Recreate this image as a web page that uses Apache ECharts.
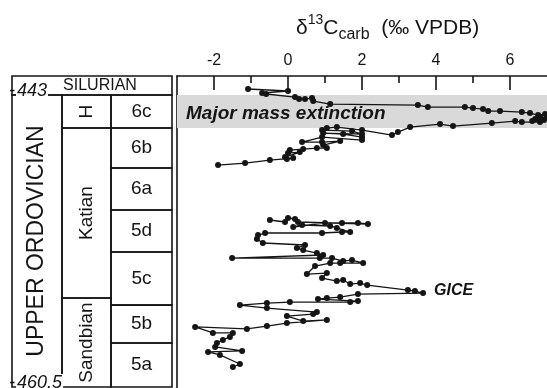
<!DOCTYPE html>
<html><head><meta charset="utf-8">
<script src="https://cdn.jsdelivr.net/npm/echarts@6/dist/echarts.min.js"></script>
<style>html,body{margin:0;padding:0;background:#fff}#c{width:547px;height:388px}</style>
</head><body><div id="c"></div>
<script>
// ---- data ----
const xTicks = [-2, 0, 2, 4, 6];
const xMinorTicks = [-1, 1, 3, 5];
// Upper segment (Hirnantian + upper Katian), delta13C and age (Ma, negative)
const upperX = [-1.08,0.00,-0.70,-0.59,0.19,0.30,0.46,0.65,0.68,1.14,3.51,3.78,4.78,5.00,5.27,5.41,5.73,6.32,6.54,6.76,6.95,6.81,7.00,6.68,6.92,6.60,6.81,6.32,6.14,5.51,4.46,4.11,3.30,2.97,2.81,2.00,1.32,1.05,0.92,1.73,2.00,0.95,1.49,2.00,2.00,0.92,0.38,0.92,1.41,0.95,1.05,0.78,0.41,0.05,0.00,0.32,-0.08,-0.03,0.14,-0.49,-1.16,-1.89];
const upperY = [-442.64,-442.76,-442.88,-442.94,-443.12,-443.24,-443.24,-443.18,-443.36,-443.54,-443.60,-443.72,-443.72,-443.78,-443.84,-443.96,-443.96,-444.02,-444.08,-444.20,-444.14,-444.32,-444.38,-444.44,-444.50,-444.56,-444.62,-444.62,-444.56,-444.68,-444.86,-444.74,-444.92,-445.22,-445.40,-445.10,-444.92,-444.98,-445.10,-445.16,-445.34,-445.28,-445.34,-445.52,-445.70,-445.52,-445.82,-445.82,-445.76,-446.00,-446.18,-446.18,-446.24,-446.30,-446.48,-446.42,-446.72,-446.84,-446.78,-446.90,-447.08,-447.20];
// Lower segment (Sandbian - middle Katian)
const lowerX = [-0.49,-0.08,0.00,0.19,0.27,2.16,1.89,1.46,1.00,0.14,0.38,1.14,1.32,1.68,1.46,0.92,-0.62,-0.81,-0.84,-0.68,0.46,0.24,0.41,0.78,0.95,-1.51,0.86,1.19,1.49,1.73,2.03,1.41,1.14,0.73,0.51,1.05,0.92,1.32,1.49,1.68,1.95,2.14,3.24,3.43,3.65,1.89,1.41,1.05,0.81,1.89,1.68,0.05,-0.57,-1.30,-0.57,0.78,0.68,-0.03,0.41,1.05,-0.03,-0.57,-1.11,-2.51,-2.03,-1.49,-1.57,-1.76,-1.92,-1.97,-1.24,-2.16,-1.84,-1.30,-1.49];
const lowerY = [-450.49,-450.61,-450.37,-450.43,-450.61,-450.73,-450.67,-450.67,-450.67,-450.91,-450.79,-450.85,-450.97,-451.21,-451.21,-451.27,-451.27,-451.39,-451.63,-451.87,-451.99,-452.17,-452.29,-452.47,-452.59,-452.77,-452.77,-452.77,-452.95,-452.89,-453.07,-453.07,-453.07,-453.25,-453.73,-453.67,-453.97,-454.15,-454.09,-454.33,-454.27,-454.39,-454.69,-454.75,-454.87,-454.93,-455.11,-455.17,-455.23,-455.35,-455.41,-455.41,-455.47,-455.59,-455.77,-456.01,-456.13,-456.25,-456.55,-456.48,-456.67,-456.85,-457.02,-456.90,-457.26,-457.26,-457.50,-457.68,-457.86,-458.10,-458.34,-458.40,-458.58,-459.12,-459.30];
const extinctionBand = [-443, -444.98];
const extinctionLabel = 'Major mass extinction';
const giceLabel = 'GICE';
const periodCells = [[-441.86, -443, 'SILURIAN']];
const seriesCells = [[-443, -460.5, 'UPPER ORDOVICIAN']];
const stageCells = [[-443, -444.98, 'H'], [-444.98, -455.17, 'Katian'], [-455.17, -460.5, 'Sandbian']];
const substageCells = [[-443, -444.98, '6c'], [-444.98, -447.37, '6b'], [-447.37, -449.89, '6a'], [-449.89, -452.41, '5d'], [-452.41, -455.59, '5c'], [-455.59, -457.86, '5b'], [-457.86, -460.5, '5a']];
const ageMarks = [[-443, '443'], [-460.5, '460.5']];

// ---- chart ----
const FONT = '"Liberation Sans", Arial, Helvetica, sans-serif';
const INK = '#151515';
const Y_MIN = -460.56, Y_MAX = -441.86;

const upperData = upperX.map((x, i) => [x, upperY[i]]);
let giceIdx = 0;
lowerX.forEach((x, i) => { if (x > lowerX[giceIdx]) giceIdx = i; });
const lowerData = lowerX.map((x, i) => {
  if (i !== giceIdx) return [x, lowerY[i]];
  return { value: [x, lowerY[i]], label: { show: true, position: 'right', distance: 8, offset: [0, -2],
    formatter: giceLabel, fontFamily: FONT, fontSize: 16, fontWeight: 'bold', fontStyle: 'italic', color: INK } };
});

// axis indices: xAxis 0,1 -> grid 0 ; xAxis k+1 -> grid k (k>=1) ; yAxis k -> grid k
function cellSeries(g, cells, fontSize, rotate, dx) {
  return {
    type: 'custom', coordinateSystem: 'cartesian2d', xAxisIndex: g + 1, yAxisIndex: g, clip: false, silent: true, z: 2,
    data: cells.map(c => [0, c[0], c[1]]),
    encode: { x: 0, y: [1, 2] },
    renderItem: function (params, api) {
      const cs = params.coordSys;
      const c = cells[params.dataIndex];
      const yA = api.coord([0, c[0]])[1];
      const yB = api.coord([0, c[1]])[1];
      return { type: 'group', children: [
        { type: 'rect', shape: { x: cs.x, y: yA, width: cs.width, height: yB - yA },
          style: { fill: 'none', stroke: INK, lineWidth: 1.6 } },
        { type: 'text', x: cs.x + cs.width / 2 + dx, y: (yA + yB) / 2, rotation: rotate ? Math.PI / 2 : 0,
          style: { text: c[2], fontFamily: FONT, fontSize: fontSize, fill: INK, align: 'center', verticalAlign: 'middle' } }
      ] };
    }
  };
}

const grids = [
  { left: 177, right: 0, top: 76, bottom: 0 },
  { left: 12, width: 160, top: 76, bottom: 0 },
  { left: 12, width: 50, top: 76, bottom: 0 },
  { left: 62, width: 49, top: 76, bottom: 0 },
  { left: 111, width: 61, top: 76, bottom: 0 }
].map(g => Object.assign({ containLabel: false, outerBoundsMode: 'none' }, g));

const hiddenX = i => ({ gridIndex: i, type: 'value', min: 0, max: 1, show: false });
const hiddenY = i => ({ gridIndex: i, type: 'value', min: Y_MIN, max: Y_MAX, show: false });

const option = {
  animation: false,
  backgroundColor: '#fff',
  title: {
    left: 296, top: 13, padding: 0,
    text: '{a|δ}{b|13}{a|C}{c|carb}{a|  (‰ VPDB)}',
    textStyle: { fontWeight: 'normal', rich: {
      a: { fontFamily: FONT, fontSize: 21, fontWeight: 'normal', color: INK, lineHeight: 30, verticalAlign: 'middle' },
      b: { fontFamily: FONT, fontSize: 14, fontWeight: 'normal', color: INK, lineHeight: 16, verticalAlign: 'top' },
      c: { fontFamily: FONT, fontSize: 16, fontWeight: 'normal', color: INK, lineHeight: 16, verticalAlign: 'bottom' }
    } }
  },
  grid: grids,
  xAxis: [
    { gridIndex: 0, type: 'value', min: -3, max: 7, position: 'top',
      axisLine: { show: true, onZero: false, lineStyle: { color: INK, width: 1.6 } },
      axisTick: { show: true, inside: true, length: 14, customValues: xTicks, lineStyle: { color: INK, width: 1.6 } },
      axisLabel: { show: true, customValues: xTicks, margin: 7, fontFamily: FONT, fontSize: 16, color: INK },
      splitLine: { show: false } },
    { gridIndex: 0, type: 'value', min: -3, max: 7, position: 'top',
      axisLine: { show: false },
      axisTick: { show: true, inside: true, length: 7, customValues: xMinorTicks, lineStyle: { color: INK, width: 1.6 } },
      axisLabel: { show: false }, splitLine: { show: false } },
    hiddenX(1), hiddenX(2), hiddenX(3), hiddenX(4)
  ],
  yAxis: [
    { gridIndex: 0, type: 'value', min: Y_MIN, max: Y_MAX, position: 'left',
      axisLine: { show: true, onZero: false, lineStyle: { color: INK, width: 1.6 } },
      axisTick: { show: false }, axisLabel: { show: false }, splitLine: { show: false } },
    hiddenY(1), hiddenY(2), hiddenY(3), hiddenY(4)
  ],
  series: [
    { type: 'custom', coordinateSystem: 'cartesian2d', xAxisIndex: 0, yAxisIndex: 0, clip: false, silent: true, z: 1,
      data: [[0, extinctionBand[0], extinctionBand[1]]],
      encode: { x: 0, y: [1, 2] },
      renderItem: function (params, api) {
        const cs = params.coordSys;
        const yA = api.coord([0, api.value(1)])[1];
        const yB = api.coord([0, api.value(2)])[1];
        return { type: 'group', children: [
          { type: 'rect', shape: { x: cs.x, y: yA, width: cs.width, height: yB - yA }, style: { fill: '#d9d9d9' } },
          { type: 'text', x: cs.x + 9, y: (yA + yB) / 2 + 2,
            style: { text: extinctionLabel, fontFamily: FONT, fontSize: 19, fontWeight: 'bold', fontStyle: 'italic',
              fill: INK, align: 'left', verticalAlign: 'middle' } }
        ] };
      } },
    { type: 'line', xAxisIndex: 0, yAxisIndex: 0, data: upperData, z: 3,
      symbol: 'circle', symbolSize: 6, itemStyle: { color: INK }, lineStyle: { color: INK, width: 1.3 } },
    { type: 'line', xAxisIndex: 0, yAxisIndex: 0, data: lowerData, z: 3,
      symbol: 'circle', symbolSize: 6, itemStyle: { color: INK }, lineStyle: { color: INK, width: 1.3 } },
    cellSeries(1, periodCells, 16, false, 8),
    cellSeries(2, seriesCells, 23, true, 0),
    cellSeries(3, stageCells, 19, true, 0),
    cellSeries(4, substageCells, 19, false, 0),
    { type: 'custom', coordinateSystem: 'cartesian2d', xAxisIndex: 3, yAxisIndex: 2, clip: false, silent: true, z: 5,
      data: ageMarks.map(m => [0, m[0]]),
      renderItem: function (params, api) {
        const cs = params.coordSys;
        const m = ageMarks[params.dataIndex];
        const y = api.coord([0, m[0]])[1];
        return { type: 'text', x: cs.x - 3, y: y - 4,
          style: { text: '{m|-}{n|' + m[1] + '}', fontFamily: FONT, fontSize: 18, fontStyle: 'italic', fill: INK,
            align: 'left', verticalAlign: 'middle',
            rich: { m: { fontFamily: FONT, fontSize: 18, fontStyle: 'italic', fill: INK, padding: [0, 1, 0, 0] },
                    n: { fontFamily: FONT, fontSize: 18, fontStyle: 'italic', fill: INK, backgroundColor: '#fff', padding: [0, 1, 0, 1] } } } };
      } }
  ]
};
const chart = echarts.init(document.getElementById('c'), null, { renderer: 'canvas' });
chart.setOption(option);
</script></body></html>
